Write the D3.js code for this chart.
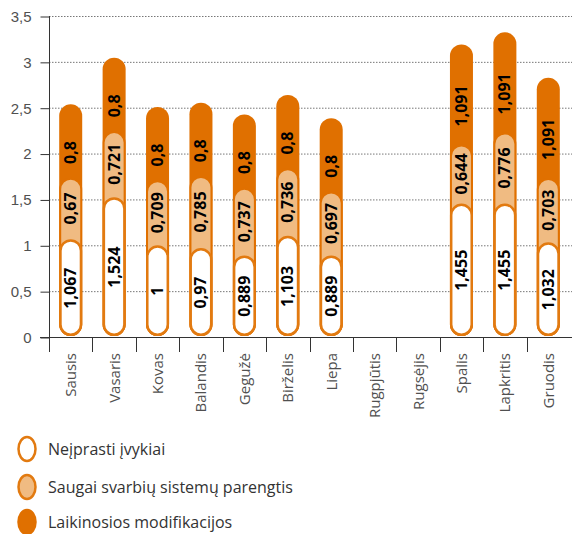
<!DOCTYPE html>
<html>
<head>
<meta charset="utf-8">
<script src="https://cdn.jsdelivr.net/npm/d3@7"></script>
<style>
  html, body { margin: 0; padding: 0; background: #fff; }
  svg { display: block; font-family: "Open Sans", "Noto Sans", sans-serif; }
</style>
</head>
<body>
<svg id="chart" width="572" height="534"></svg>
<script>
// Months along the x axis
const months = ["Sausis", "Vasaris", "Kovas", "Balandis", "Gegužė", "Birželis",
                "Liepa", "Rugpjūtis", "Rugsėjis", "Spalis", "Lapkritis", "Gruodis"];

// Series values per month (null = no data)
const neiprasti = [1.067, 1.524, 1, 0.97, 0.889, 1.103, 0.889, null, null, 1.455, 1.455, 1.032];
const saugai    = [0.67, 0.721, 0.709, 0.785, 0.737, 0.736, 0.697, null, null, 0.644, 0.776, 0.703];
const laikinos  = [0.8, 0.8, 0.8, 0.8, 0.8, 0.8, 0.8, null, null, 1.091, 1.091, 1.091];

const seriesNames = ["Neįprasti įvykiai", "Saugai svarbių sistemų parengtis", "Laikinosios modifikacijos"];
const yTicks = [0, 0.5, 1, 1.5, 2, 2.5, 3, 3.5];

const DARK = "#e07000";
const LIGHT = "#f0bb82";
const STROKE = "#e27a10";
const TEXT = "#505050";

const svg = d3.select("#chart");
const fmt = v => String(v).replace(".", ",");

const x = d3.scaleBand().domain(months).range([49, 570]).padding(0);
const y = d3.scaleLinear().domain([0, 3.5]).range([337, 16]);
const barW = x.bandwidth() * 0.53;

// Dotted horizontal gridlines
svg.append("g").selectAll("line")
  .data(yTicks.filter(t => t > 0))
  .join("line")
  .attr("x1", 49).attr("x2", 572)
  .attr("y1", d => y(d) + 0.5).attr("y2", d => y(d) + 0.5)
  .attr("stroke", "#777").attr("stroke-width", 1)
  .attr("stroke-dasharray", "1.5,1.5");

// Y axis
const yAxis = d3.axisLeft(y).tickValues(yTicks).tickSize(9).tickPadding(9)
  .tickFormat(fmt);
const gy = svg.append("g").attr("transform", "translate(49.5,0.5)").call(yAxis);
gy.select(".domain").attr("stroke", "#333").attr("d", "M0," + (y(3.5) - 0.5) + "V" + y(0));
gy.selectAll(".tick line").attr("stroke", "#333");
gy.selectAll(".tick text").attr("fill", TEXT).attr("font-size", 15).attr("font-weight", 400);

// X axis with ticks on band boundaries
const boundaries = months.map(m => x(m));
const gx = svg.append("g");
gx.append("line").attr("x1", 40).attr("x2", 572)
  .attr("y1", y(0) + 0.5).attr("y2", y(0) + 0.5)
  .attr("stroke", "#333").attr("stroke-width", 1);
gx.selectAll("line.tk").data(boundaries).join("line")
  .attr("class", "tk")
  .attr("x1", d => Math.round(d) + 0.5).attr("x2", d => Math.round(d) + 0.5)
  .attr("y1", y(0)).attr("y2", y(0) + 15)
  .attr("stroke", "#333");
gx.selectAll("text").data(months).join("text")
  .attr("transform", d => `translate(${x(d) + x.bandwidth() / 2 + 5.5},353) rotate(-90)`)
  .attr("text-anchor", "end")
  .attr("fill", TEXT).attr("font-size", 15).attr("font-weight", 400)
  .text(d => d);

// Stacked capsule bars
const rows = months.map((m, i) => ({
  m,
  a: neiprasti[i], b: saugai[i], c: laikinos[i]
})).filter(d => d.a != null);

const bars = svg.append("g");
function capsule(g, top, fill, stroke, sw) {
  const inset = sw / 2;
  g.append("rect")
    .attr("x", d => x(d.m) + (x.bandwidth() - barW) / 2 + inset)
    .attr("width", barW - sw)
    .attr("y", d => y(top(d)) + inset)
    .attr("height", d => y(0) - 1 - y(top(d)) - sw)
    .attr("rx", (barW - sw) / 2)
    .attr("fill", fill)
    .attr("stroke", stroke).attr("stroke-width", sw);
}
const bg = bars.selectAll("g").data(rows).join("g");
bg.each(function(d) {
  const g = d3.select(this).datum(d);
  capsule(g, r => r.a + r.b + r.c, DARK, "none", 0);
  capsule(g, r => r.a + r.b, LIGHT, DARK, 2);
  capsule(g, r => r.a, "#fff", STROKE, 2.5);
});

// Value labels inside each segment
const labels = svg.append("g").attr("font-weight", 700).attr("font-size", 16).attr("fill", "#000");
rows.forEach(d => {
  const cx = x(d.m) + x.bandwidth() / 2;
  const segs = [
    [d.a, 0, d.a],
    [d.b, d.a, d.a + d.b],
    [d.c, d.a + d.b, d.a + d.b + d.c - 0.25]
  ];
  segs.forEach(([v, lo, hi]) => {
    labels.append("text")
      .attr("transform", `translate(${cx + 5.5},${y((lo + hi) / 2)}) rotate(-90)`)
      .attr("text-anchor", "middle")
      .text(fmt(v));
  });
});

// Legend
const legend = svg.append("g");
const legendStyles = [
  { fill: "#fff", stroke: STROKE },
  { fill: LIGHT, stroke: STROKE },
  { fill: DARK, stroke: DARK }
];
const ly = [449, 487, 522];
seriesNames.forEach((name, i) => {
  legend.append("ellipse")
    .attr("cx", 27).attr("cy", ly[i]).attr("rx", 8.5).attr("ry", 12)
    .attr("fill", legendStyles[i].fill)
    .attr("stroke", legendStyles[i].stroke).attr("stroke-width", 2.5);
  legend.append("text")
    .attr("x", 48).attr("y", ly[i] + 6)
    .attr("fill", "#333").attr("font-size", 16).attr("font-weight", 400)
    .text(name);
});
</script>
</body>
</html>
